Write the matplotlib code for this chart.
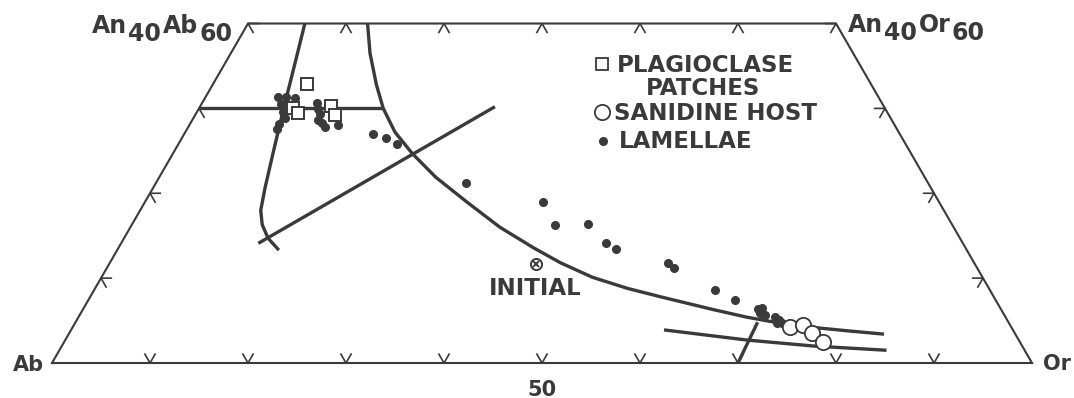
import numpy as np
import matplotlib
matplotlib.use("Agg")
import matplotlib.pyplot as plt

plt.rcParams["font.family"] = ["DejaVu Sans"]
plt.rcParams["font.weight"] = "bold"

W, H = 1074, 398          # output size in pixels
INK = "#3a3a3a"
PT = 0.72                 # points per pixel at dpi 100

# every composition below is (Or %, An %); Ab is the remainder
frame_or = [0, 100, 60, 0, 0]
frame_an = [0, 0, 40, 40, 0]

curve_a_or = [5.8, 6.8, 8.7, 10.2, 11.4, 12.3, 13.3, 14.7, 16.5]
curve_a_an = [40.0, 36.5, 29.8, 24.7, 20.7, 18.0, 16.3, 14.7, 13.3]

curve_b_or = [12.2, 14.2, 16.7, 18.8, 21.4, 24.4, 28.2, 32.8, 37.7, 42.3,
              46.0, 50.1, 54.3, 58.2, 64.3, 68.2, 71.9, 75.5, 79.2, 83.2]
curve_b_an = [40.0, 36.5, 32.8, 30.0, 27.2, 24.7, 21.9, 19.0, 16.0, 13.6,
              11.8, 10.1, 8.8, 7.8, 6.3, 5.4, 4.7, 4.2, 3.8, 3.4]

curve_d_or = [60.5, 69.6, 76.7, 84.4]
curve_d_an = [3.9, 2.7, 2.0, 1.5]

tie_30_or = [0.0, 18.8]          # An30 line from the Ab-An edge to curve B
tie_30_an = [30.0, 30.0]
ratio_or = [14.0, 30.1]          # Or = An line
ratio_an = [14.1, 30.2]
stub_or = [70.0, 69.6]           # short line from the base to curve B
stub_an = [0.0, 4.8]

plag_or = [9.6, 9.6, 10.4, 13.3, 14.3]
plag_an = [32.9, 30.0, 29.5, 30.3, 29.2]

sanidine_or = [73.2, 74.4, 75.8, 77.4]
sanidine_an = [4.2, 4.5, 3.5, 2.5]

lamellae_or = [7.4, 8.2, 9.2, 8.1, 8.8, 9.3, 9.1, 9.2,
               11.7, 12.2, 12.7, 12.8, 13.4, 14.0, 15.2,
               19.3, 20.8, 22.3, 31.6, 40.6, 43.2, 46.5, 49.5, 50.9,
               57.0, 57.9, 63.4, 66.0,
               68.8, 69.2, 69.3, 69.9, 71.1, 71.6, 71.6, 72.1]
lamellae_an = [31.3, 31.3, 31.2, 30.5, 29.6, 28.9, 28.2, 27.6,
               30.6, 29.9, 29.3, 28.6, 28.3, 27.8, 28.0,
               27.0, 26.5, 25.8, 21.2, 19.0, 16.3, 16.4, 14.1, 13.4,
               11.8, 11.2, 8.6, 7.4,
               6.4, 6.5, 5.9, 5.7, 5.4, 5.1, 4.7, 4.7]

initial = (43.5, 11.7)

tick_step = 10


def xy(or_pct, an_pct):
    o = np.asarray(or_pct, float) / 100
    a = np.asarray(an_pct, float) / 100
    return o + a / 2, a * np.sqrt(3) / 2


def fig_frac(px, py):
    return px / W, 1 - py / H


def corner_label(ax, parts, anchor, dx, dy, size=17, drop=8):
    """Write e.g. An 40 Ab 60 with the numbers dropped below the line."""
    prev = ax.annotate(parts[0], anchor, xytext=(dx * PT, dy * PT),
                       textcoords="offset points", ha="left", va="baseline",
                       fontsize=size, color=INK, fontweight="bold")
    for i, part in enumerate(parts[1:]):
        shift = -drop if i % 2 == 0 else drop
        gap = 1 if i % 2 == 0 else 2
        prev = ax.annotate(part, (1, 0), xycoords=prev,
                           xytext=(gap * PT, shift * PT),
                           textcoords="offset points", ha="left", va="bottom",
                           fontsize=size, color=INK, fontweight="bold")


fig = plt.figure(figsize=(W / 100, H / 100), dpi=100)
ax = fig.add_axes([0, 0, 1, 1])
ax.set_xlim(-52 / 980, (W - 52) / 980)
ax.set_ylim(-(H - 363) / 980, 363 / 980)
ax.axis("off")

# frame
ax.plot(*xy(frame_or, frame_an), color=INK, lw=1.5, solid_joinstyle="miter")

# ticks: two short strokes along the grid directions at every 10 %
ur = np.array([0.5, np.sqrt(3) / 2])
ul = np.array([-0.5, np.sqrt(3) / 2])
rt = np.array([1.0, 0.0])
L = 0.0105
edges = [
    ([(k, 0) for k in range(tick_step, 100, tick_step)], ur, ul),
    ([(0, a) for a in range(tick_step, 41, tick_step)], rt, -ul),
    ([(100 - a, a) for a in range(tick_step, 41, tick_step)], -rt, -ur),
    ([(k, 40) for k in range(tick_step, 60, tick_step)], -ur, -ul),
]
for pts, d1, d2 in edges:
    for o, a in pts:
        p = np.array(xy(o, a))
        seg = np.array([p + L * d1, p, p + L * d2])
        ax.plot(seg[:, 0], seg[:, 1], color=INK, lw=1.2)

# curves and tie lines
for cx, cy in [(curve_a_or, curve_a_an), (curve_b_or, curve_b_an),
               (curve_d_or, curve_d_an), (tie_30_or, tie_30_an),
               (ratio_or, ratio_an), (stub_or, stub_an)]:
    ax.plot(*xy(cx, cy), color=INK, lw=2.4, solid_capstyle="butt",
            solid_joinstyle="round")

# data
ax.plot(*xy(lamellae_or, lamellae_an), "o", ms=5.5, color=INK, zorder=3)
ax.plot(*xy(plag_or, plag_an), "s", ms=9, mfc="white", mec=INK, mew=1.4,
        zorder=4)
ax.plot(*xy(sanidine_or, sanidine_an), "o", ms=11, mfc="white", mec=INK,
        mew=1.3, zorder=4)
ix, iy = xy(*initial)
ax.plot(ix, iy, "o", ms=8, mfc="white", mec=INK, mew=1.4, zorder=4)
ax.plot(ix, iy, "x", ms=5, mec=INK, mew=1.4, zorder=5)

# labels
txt = dict(color=INK, fontweight="bold")
ax.annotate("INITIAL", (ix, iy), xytext=(0, -31 * PT),
            textcoords="offset points", ha="center", va="baseline",
            fontsize=16.5, **txt)
ax.annotate("50", xy(50, 0), xytext=(0, -33 * PT),
            textcoords="offset points", ha="center", va="baseline",
            fontsize=15, **txt)
ax.annotate("Ab", xy(0, 0), xytext=(-8 * PT, -8 * PT),
            textcoords="offset points", ha="right", va="baseline",
            fontsize=15, **txt)
ax.annotate("Or", xy(100, 0), xytext=(11 * PT, -7 * PT),
            textcoords="offset points", ha="left", va="baseline",
            fontsize=15, **txt)
corner_label(ax, ["An", "40", "Ab", "60"], xy(0, 40), -156, -9)
corner_label(ax, ["An", "40", "Or", "60"], xy(60, 40), 12, -8)

# legend, laid out by hand like the original
leg = dict(transform=ax.transAxes, va="baseline", fontsize=16.5, **txt)
ax.text(*fig_frac(617, 72), "PLAGIOCLASE", ha="left", **leg)
ax.text(*fig_frac(703, 95), "PATCHES", ha="center", **leg)
ax.text(*fig_frac(614, 120), "SANIDINE HOST", ha="left", **leg)
ax.text(*fig_frac(619, 148), "LAMELLAE", ha="left", **leg)
ax.plot(*fig_frac(602, 64), "s", ms=9, mfc="white", mec=INK, mew=1.3,
        transform=ax.transAxes)
ax.plot(*fig_frac(602, 112), "o", ms=11, mfc="white", mec=INK, mew=1.3,
        transform=ax.transAxes)
ax.plot(*fig_frac(603, 141), "o", ms=5.5, color=INK, transform=ax.transAxes)

fig.savefig("out.png", dpi=100, facecolor="white")
